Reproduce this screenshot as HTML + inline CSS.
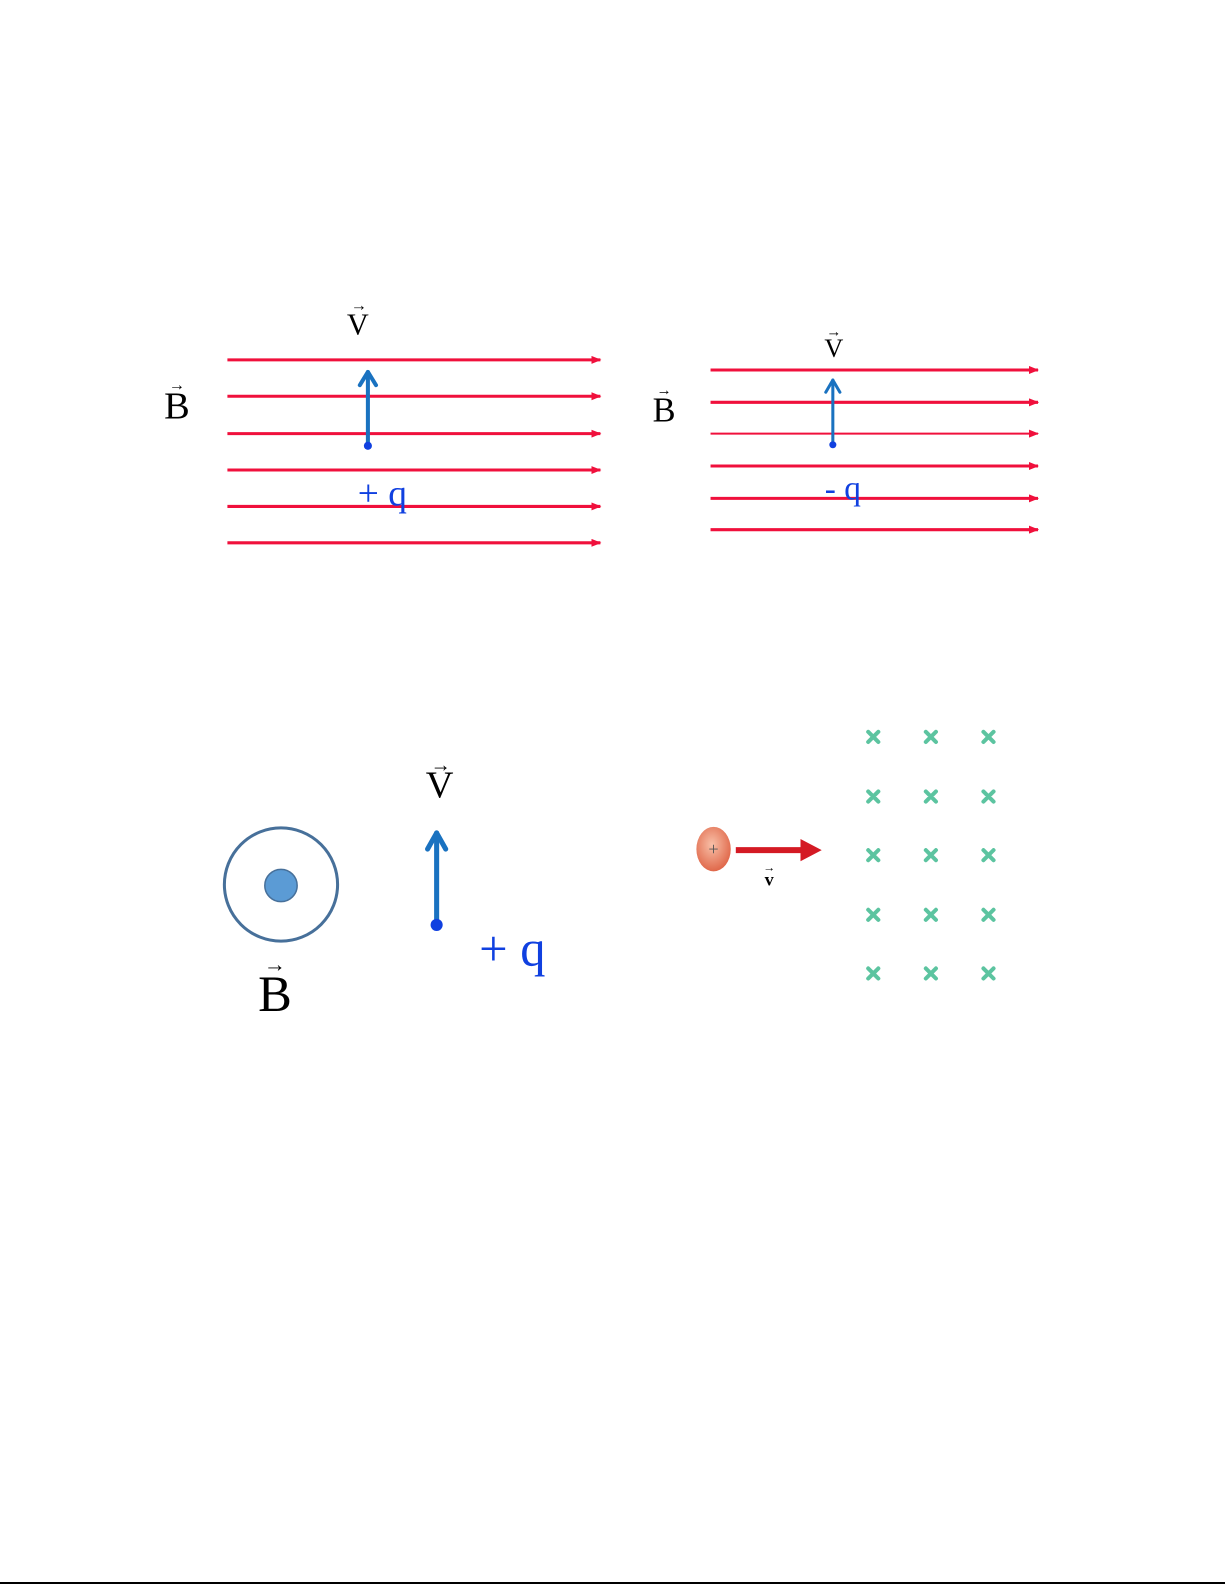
<!DOCTYPE html>
<html><head><style>body{margin:0;background:#fff}svg{display:block}</style></head><body>
<svg width="1225" height="1585" viewBox="0 0 1212 1568" preserveAspectRatio="none" xmlns="http://www.w3.org/2000/svg" font-family="Liberation Serif, serif">
<defs>
<marker id="ra" markerWidth="10" markerHeight="8" refX="9" refY="4" orient="auto" markerUnits="userSpaceOnUse"><path d="M0,0 L10,4 L0,8z" fill="#f0103c"/></marker>
<radialGradient id="pg" cx="0.45" cy="0.4" r="0.6"><stop offset="0" stop-color="#f8c0a8"/><stop offset="1" stop-color="#e0684a"/></radialGradient>
</defs>
<g stroke="#f0103c" stroke-width="3" marker-end="url(#ra)">
<line x1="225" y1="356" x2="594" y2="356"/><line x1="225" y1="392" x2="594" y2="392"/><line x1="225" y1="429" x2="594" y2="429"/><line x1="225" y1="465" x2="594" y2="465"/><line x1="225" y1="501" x2="594" y2="501"/><line x1="225" y1="537" x2="594" y2="537"/>
<line x1="703" y1="366" x2="1027" y2="366"/><line x1="703" y1="398" x2="1027" y2="398"/><line x1="703" y1="429" x2="1027" y2="429" stroke-width="2"/><line x1="703" y1="461" x2="1027" y2="461"/><line x1="703" y1="493" x2="1027" y2="493"/><line x1="703" y1="524" x2="1027" y2="524"/>
</g>
<g stroke="#1a72c0" fill="none" stroke-linecap="round" stroke-linejoin="round">
<line x1="364" y1="441" x2="364" y2="368" stroke-width="4"/><polyline points="356,381 364,368 372,381" stroke-width="4"/>
<line x1="824" y1="440" x2="824" y2="376" stroke-width="3"/><polyline points="817,388 824,376 831,388" stroke-width="3"/>
<line x1="432" y1="915" x2="432" y2="824" stroke-width="5"/><polyline points="423,840 432,824 441,840" stroke-width="5"/>
</g>
<circle cx="364" cy="441" r="4" fill="#1040e0"/><circle cx="824" cy="440" r="3.5" fill="#1040e0"/><circle cx="432" cy="915" r="6" fill="#1040e0"/>
<g fill="#000" text-anchor="middle">
<text x="354" y="331" font-size="30">V</text><text x="355" y="307" font-size="16">→</text>
<text x="175" y="414" font-size="38">B</text><text x="175" y="386" font-size="16">→</text>
<text x="825" y="353" font-size="26">V</text><text x="825" y="333" font-size="15">→</text>
<text x="657" y="417" font-size="34">B</text><text x="657" y="391" font-size="15">→</text>
<text x="272" y="1000" font-size="50">B</text><text x="272" y="961" font-size="22">→</text>
<text x="435" y="789" font-size="38">V</text><text x="436" y="763" font-size="20">→</text>
</g>
<g fill="#1040e0">
<text x="354" y="500" font-size="37">+ q</text>
<text x="816" y="494" font-size="33">- q</text>
<text x="474" y="955" font-size="50">+ q</text>
</g>
<circle cx="278" cy="875" r="56" fill="none" stroke="#47709a" stroke-width="3"/>
<circle cx="278" cy="876" r="16" fill="#5b9bd5" stroke="#47709a" stroke-width="1.5"/>
<ellipse cx="706" cy="840" rx="17" ry="22" fill="url(#pg)"/>
<text x="706" y="846" font-size="18" text-anchor="middle" fill="#555">+</text>
<line x1="728" y1="841" x2="795" y2="841" stroke="#d41a24" stroke-width="6"/>
<path d="M792,830 L813,841 L792,852z" fill="#d41a24"/>
<text x="761" y="876" font-size="18" font-weight="bold" text-anchor="middle">v</text>
<text x="761" y="862" font-size="12" text-anchor="middle">→</text>
<g stroke="#5cc4a0" stroke-width="4" stroke-linecap="round">
<path d="M859,724l10,10m0,-10l-10,10M916,724l10,10m0,-10l-10,10M973,724l10,10m0,-10l-10,10"/>
<path d="M859,783l10,10m0,-10l-10,10M916,783l10,10m0,-10l-10,10M973,783l10,10m0,-10l-10,10"/>
<path d="M859,841l10,10m0,-10l-10,10M916,841l10,10m0,-10l-10,10M973,841l10,10m0,-10l-10,10"/>
<path d="M859,900l10,10m0,-10l-10,10M916,900l10,10m0,-10l-10,10M973,900l10,10m0,-10l-10,10"/>
<path d="M859,958l10,10m0,-10l-10,10M916,958l10,10m0,-10l-10,10M973,958l10,10m0,-10l-10,10"/>
</g>
<line x1="0" y1="1566" x2="1212" y2="1566" stroke="#000" stroke-width="2"/>
</svg>
</body></html>
